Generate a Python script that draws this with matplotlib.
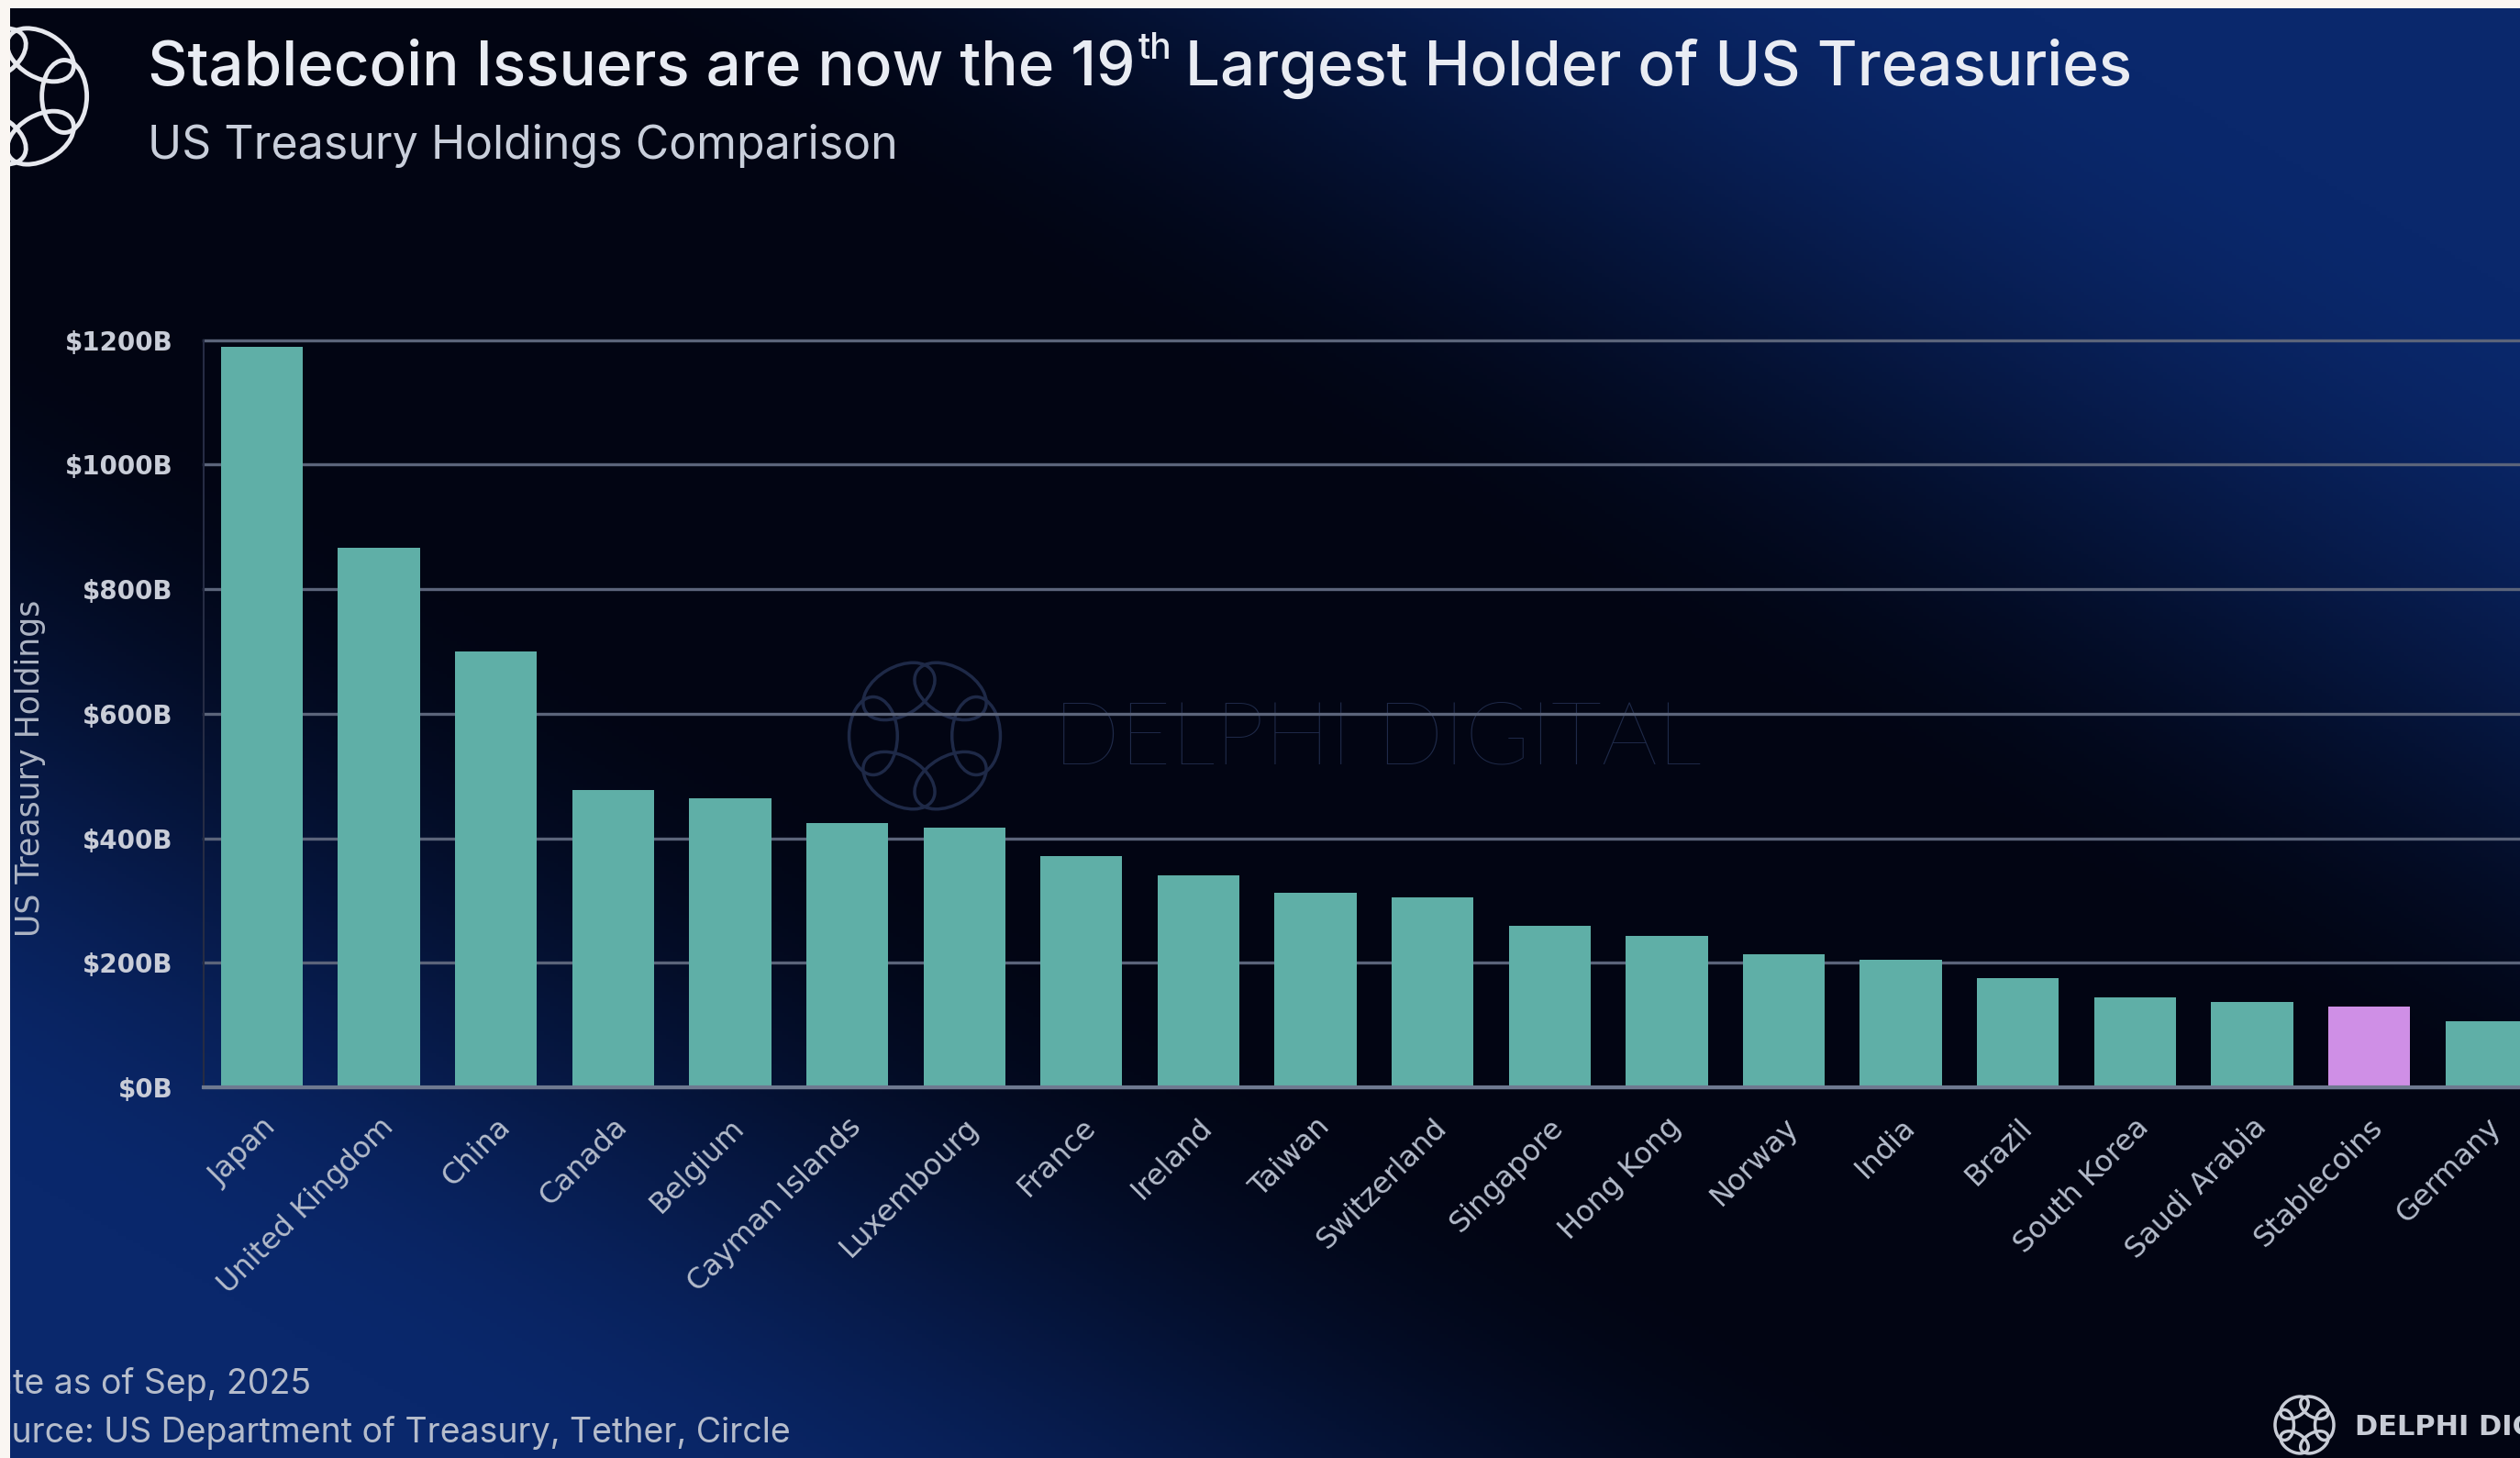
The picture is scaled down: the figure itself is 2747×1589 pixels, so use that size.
import numpy as np
import matplotlib.pyplot as plt
from matplotlib.patches import Ellipse, Rectangle

# US Treasury holdings by holder, $B (Sep 2025)
countries = ["Japan", "United Kingdom", "China", "Canada", "Belgium",
             "Cayman Islands", "Luxembourg", "France", "Ireland", "Taiwan",
             "Switzerland", "Singapore", "Hong Kong", "Norway", "India",
             "Brazil", "South Korea", "Saudi Arabia", "Stablecoins", "Germany"]
holdings = [1189, 867, 700, 477, 464, 425, 417, 371, 340, 313,
            305, 259, 243, 214, 205, 175, 144, 137, 130, 106]
highlight = "Stablecoins"
y_ticks = [0, 200, 400, 600, 800, 1000, 1200]
y_tick_labels = ["$%dB" % v for v in y_ticks]

W, H = 2747, 1589
fig = plt.figure(figsize=(W / 100, H / 100), dpi=100)
fig.patch.set_facecolor("#020513")

# dark diagonal band with blue corners (top right, bottom left)
bg = fig.add_axes([0, 0, 1, 1], zorder=-10)
u, v = np.meshgrid(np.linspace(0, 1, 700), np.linspace(0, 1, 400))
t = np.clip((np.abs(u - v) - 0.2) / 0.6, 0, 1)
t = t * t * (3 - 2 * t)
dark = np.array([2, 5, 19]) / 255
blue = np.array([10, 40, 108]) / 255
img = dark + t[..., None] * (blue - dark)
bg.imshow(img, extent=[0, 1, 0, 1], aspect="auto", origin="upper")
bg.set_xlim(0, 1)
bg.set_ylim(0, 1)
bg.axis("off")


def px(x, y):
    # pixel position (from top-left) -> inches for dpi_scale_trans
    return x / 100, (H - y) / 100


def ring_logo(cx, cy, r, color, lw, zorder):
    # six interlocking ovals around a circle
    for k in range(6):
        a = np.deg2rad(60 * k)
        ex = cx + 0.66 * r * np.cos(a)
        ey = cy - 0.66 * r * np.sin(a)
        e = Ellipse(px(ex, ey), 1.0 * r / 100, 0.62 * r / 100,
                    angle=60 * k + 90, fill=False, edgecolor=color,
                    linewidth=lw, transform=fig.dpi_scale_trans, zorder=zorder)
        fig.add_artist(e)


# watermark
ring_logo(1008, 802, 85, "#1e2947", 2.5, -5)
fig.text(1148 / W, 1 - 806 / H, "DELPHI DIGITAL", ha="left", va="center",
         fontsize=69, family="Lato", weight="light", color="#1f2a49", zorder=-5)

# main chart
ax = fig.add_axes([221.7 / W, (H - 1185) / H, (2774 - 221.7) / W, (1185 - 370.7) / H])
ax.patch.set_alpha(0)
x = np.arange(len(countries))
colors = ["#cf8fe6" if c == highlight else "#5fafa7" for c in countries]
ax.bar(x, holdings, width=0.7, color=colors, zorder=3)
ax.set_xlim(-0.5, len(countries) - 0.5)
ax.set_ylim(0, 1200)

ax.set_yticks(y_ticks)
ax.set_yticklabels(y_tick_labels, fontweight="bold", color="#c9cdd8", fontsize=20)
ax.yaxis.grid(True, color="#5b647a", linewidth=2.4)
for gl in ax.get_ygridlines():
    gl.set_clip_on(False)
ax.set_axisbelow(True)
ax.tick_params(axis="y", length=0, pad=24)

ax.set_xticks(x)
ax.set_xticklabels(countries, rotation=45, ha="right", rotation_mode="anchor",
                   color="#b4bccb", fontsize=23)
ax.tick_params(axis="x", length=0, pad=20)

for sp in ["top", "right"]:
    ax.spines[sp].set_visible(False)
ax.spines["left"].set_color("#262c44")
ax.spines["left"].set_linewidth(1.5)
ax.spines["bottom"].set_color("#6e7990")
ax.spines["bottom"].set_linewidth(3)
ax.spines["bottom"].set_zorder(4)

fig.text(33 / W, 1 - 837 / H, "US Treasury Holdings", rotation=90,
         ha="center", va="center", color="#aeb5c4", fontsize=25)

# title with superscript ordinal
title_kw = dict(family="Inter", weight="medium", color="#e9ecf3")
fig.canvas.draw()
r = fig.canvas.get_renderer()
t1 = fig.text(161 / W, 1 - 93 / H, "Stablecoin Issuers are now the 19",
              fontsize=48.5, va="baseline", **title_kw)
bb = t1.get_window_extent(r)
t2 = fig.text((bb.x1 + 3) / W, 1 - 64 / H, "th", fontsize=28,
              va="baseline", **title_kw)
bb2 = t2.get_window_extent(r)
fig.text((bb2.x1 + 15) / W, 1 - 93 / H, "Largest Holder of US Treasuries",
         fontsize=48.5, va="baseline", **title_kw)

fig.text(161 / W, 1 - 173 / H, "US Treasury Holdings Comparison",
         fontsize=36, family="Inter", color="#c9cfdb", va="baseline")

# footnotes
fig.text(-34 / W, 1 - 1519 / H, "Date as of Sep, 2025", fontsize=27,
         family="Inter", color="#b5bccb", va="baseline")
fig.text(-34 / W, 1 - 1572 / H, "Source: US Department of Treasury, Tether, Circle",
         fontsize=27, family="Inter", color="#b5bccb", va="baseline")

# logos
ring_logo(18, 105, 79, "#e6e8ee", 3.5, 5)
ring_logo(2512, 1553, 33, "#c8ccd6", 2.5, 5)
fig.text(2567 / W, 1 - 1555 / H, "DELPHI DIGITAL", ha="left", va="center",
         fontsize=22, weight="bold", color="#c8ccd6")

# light frame strips on the top and left edges
fig.add_artist(Rectangle((0, 0), 11 / W, 1, transform=fig.transFigure,
                         facecolor="#faf6f2", edgecolor="none", zorder=100))
fig.add_artist(Rectangle((0, 1 - 9 / H), 1, 9 / H, transform=fig.transFigure,
                         facecolor="#faf6f2", edgecolor="none", zorder=100))

fig.savefig("out.png", dpi=100)
